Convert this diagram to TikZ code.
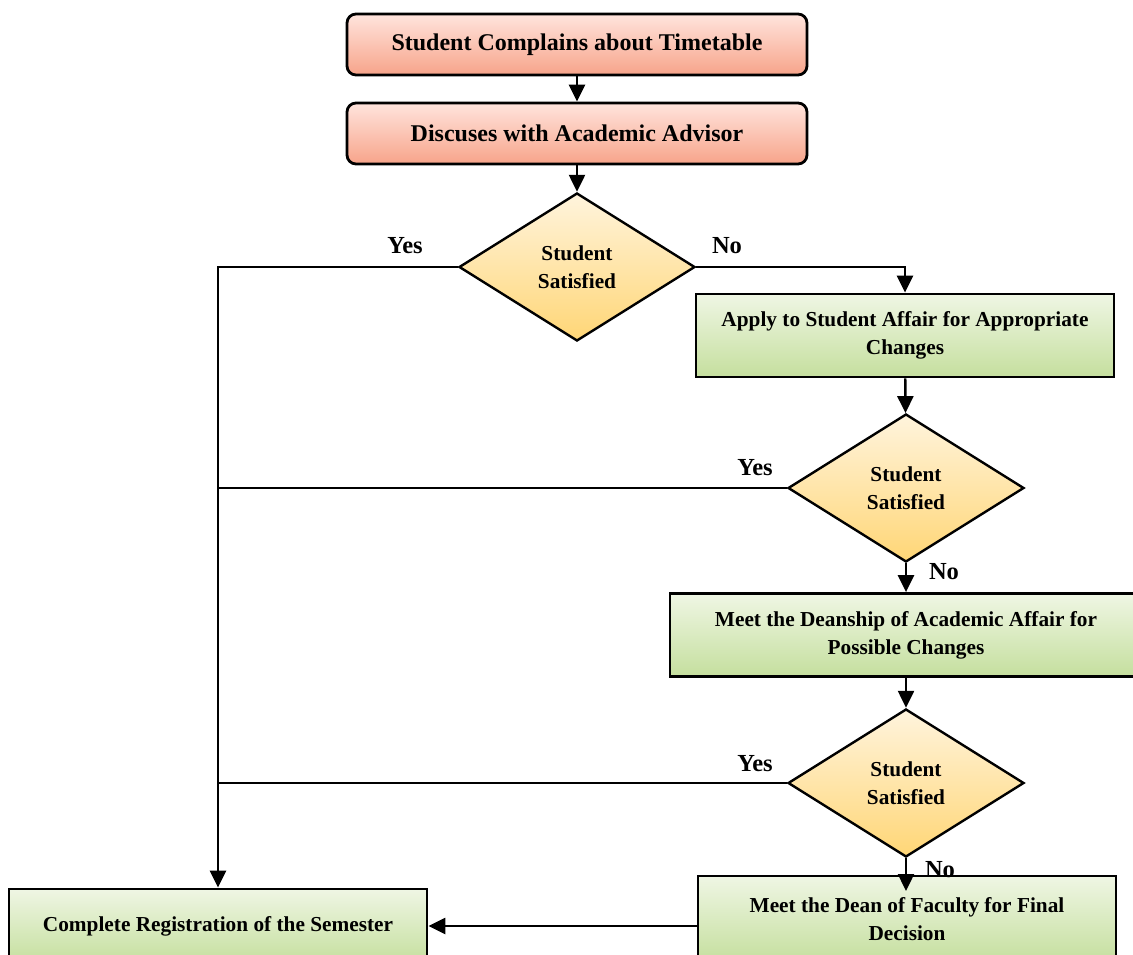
\documentclass[tikz,border=0pt]{standalone}
\usepackage{fontspec}
\setmainfont{Liberation Serif}
\usetikzlibrary{shapes.geometric,arrows.meta}
\definecolor{pinktop}{HTML}{FFE4DD}
\definecolor{pinkbot}{HTML}{F7A48A}
\definecolor{yeltop}{HTML}{FFF4DD}
\definecolor{yelbot}{HTML}{FFD676}
\definecolor{grntop}{HTML}{EFF6E4}
\definecolor{grnbot}{HTML}{C5DF9E}
\tikzset{
  every node/.style={font=\fontsize{21.3}{28}\selectfont\bfseries, align=center, inner sep=0pt},
  startbox/.style={draw, line width=2.8pt, rounded corners=9pt, top color=pinktop, bottom color=pinkbot,
    minimum width=460pt, minimum height=61pt, font=\fontsize{24}{28}\selectfont\bfseries},
  actbox/.style={draw, line width=2.8pt, top color=grntop, bottom color=grnbot, minimum height=83pt},
  decision/.style={diamond, draw, line width=2.4pt, top color=yeltop, bottom color=yelbot,
    minimum width=236pt, minimum height=148pt, aspect=1.6},
  flow/.style={line width=2.4pt, -{Triangle[length=17pt,width=16pt]}},
  linkline/.style={line width=2.4pt},
  lbl/.style={font=\fontsize{24.5}{28}\selectfont\bfseries}
}
\begin{document}
\begin{tikzpicture}[x=1pt,y=-1pt]
\clip (0,0) rectangle (1133,955);
\fill[white] (0,0) rectangle (1133,955);

% process steps
\node[startbox] (s1) at (577,44.5) {Student Complains about Timetable};
\node[startbox] (s2) at (577,133.5) {Discuses with Academic Advisor};
\node[decision] (d1) at (577,267) {Student\\Satisfied};
\node[actbox, minimum width=418pt] (a1) at (905,335.5) {Apply to Student Affair for Appropriate\\Changes};
\node[decision] (d2) at (906,488) {Student\\Satisfied};
\node[actbox, minimum width=472pt] (a2) at (906,635) {Meet the Deanship of Academic Affair for\\Possible Changes};
\node[decision] (d3) at (906,783) {Student\\Satisfied};
\node[actbox, minimum width=418pt, minimum height=86pt] (a3) at (907,919) {Meet the Dean of Faculty for Final\\Decision};
\node[actbox, minimum width=418pt, minimum height=74pt] (reg) at (218,926) {Complete Registration of the Semester};
\coordinate (a3in) at (906,891);

% branch labels
\node[lbl] (y1) at (405,246) {Yes};
\node[lbl] (n1) at (727,246) {No};
\node[lbl] (y2) at (755,468) {Yes};
\node[lbl] (n2) at (944,572) {No};
\node[lbl] (y3) at (755,764) {Yes};
\node[lbl] (n3) at (940,870) {No};

% connectors
\draw[flow] (s1) -- (s2);
\draw[flow] (s2) -- (d1);
\draw[flow] (d1.east) -| (a1.north);
\draw[flow] (d1.west) -| (reg.north);
\draw[flow] (a1) -- (d2);
\draw[linkline] (d2.west) -- (d2.west -| reg.north);
\draw[flow] (d2) -- (d2.south |- a2.north);
\draw[flow] (a2.south -| d3.north) -- (d3);
\draw[linkline] (d3.west) -- (d3.west -| reg.north);
\draw[flow] (d3.south) -- (a3in);
\draw[flow] (a3.west |- reg.east) -- (reg.east);
\end{tikzpicture}
\end{document}
